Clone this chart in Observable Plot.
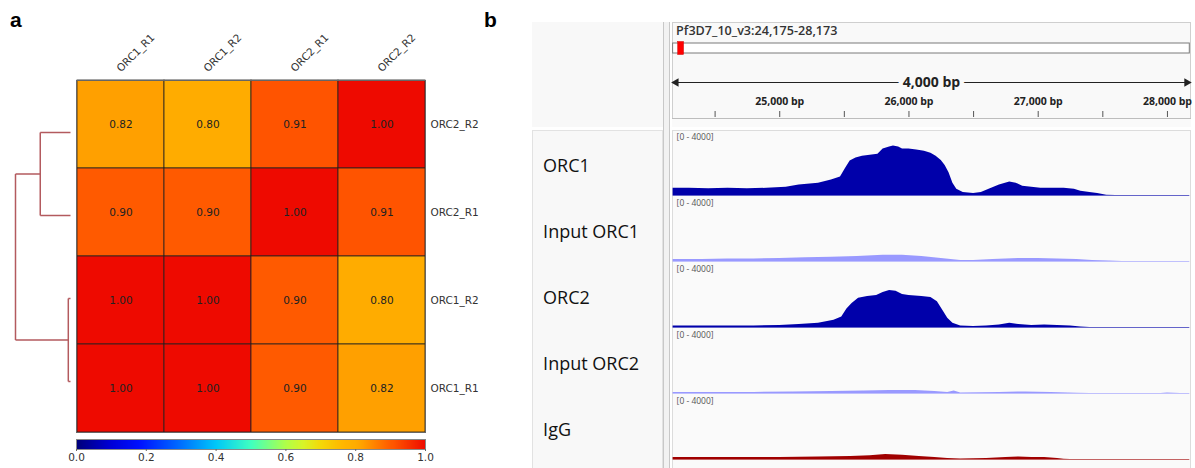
<!DOCTYPE html>
<html><head><meta charset="utf-8">
<script src="https://cdn.jsdelivr.net/npm/d3@7"></script>
<script src="https://cdn.jsdelivr.net/npm/@observablehq/plot@0.6"></script>
<style>
body{margin:0;background:#fff;}
#fig{position:relative;width:1195px;height:468px;overflow:hidden;font-family:"Open Sans",sans-serif;background:#fff;}
.abs{position:absolute;}
.lbl{position:absolute;font-family:"Liberation Sans",Arial,sans-serif;font-weight:bold;font-size:21px;color:#000;line-height:1;}
</style></head><body><div id="fig"></div>
<script>
// ---------- Panel a data ----------
const columns = ["ORC1_R1","ORC1_R2","ORC2_R1","ORC2_R2"];
const rows = ["ORC2_R2","ORC2_R1","ORC1_R2","ORC1_R1"];
const corr = [
  [0.82, 0.80, 0.91, 1.00],
  [0.90, 0.90, 1.00, 0.91],
  [1.00, 1.00, 0.90, 0.80],
  [1.00, 1.00, 0.90, 0.82]
];
const colorStops = [0, 0.1, 0.18, 0.3, 0.4, 0.5, 0.6, 0.65, 0.7, 0.76, 0.8, 0.82, 0.9, 0.91, 1.0];
const colorStopColors = ["#00007A","#0000D8","#0010FF","#0070FF","#00C8F8","#40FFC0","#B0FF48","#D8F428","#F4D808","#FFB800","#FFAC00","#FFA000","#FF5A00","#FF5400","#EE0A00"];
const colorbarTicks = [0, 0.2, 0.4, 0.6, 0.8, 1.0];
const dendroMerges = [
  {id: "A", left: "ORC2_R2", right: "ORC2_R1", height: 0.55},
  {id: "B", left: "ORC1_R2", right: "ORC1_R1", height: 0.04},
  {id: "root", left: "A", right: "B", height: 1.0}
];

// ---------- Panel b data ----------
const locusLabel = "Pf3D7_10_v3:24,175-28,173";
const regionStart = 24175, regionEnd = 28173;
const chromosomeLength = 1687656;
const spanBp = 4000;
const majorTicks = [25000, 26000, 27000, 28000];
const minorTicks = [24500, 25500, 26500, 27500];
const trackNames = ["ORC1", "Input ORC1", "ORC2", "Input ORC2", "IgG"];
const trackColors = ["#0000AA", "#9999FF", "#0000AA", "#9999FF", "#A00000"];
const dataRangeLabel = "[0 - 4000]";
const dataRangeMax = 4000;

const orc1Signal = [[24175,450],[24300,450],[24450,420],[24600,450],[24750,420],[24900,450],[25050,520],[25150,650],[25300,770],[25400,970],[25470,1160],[25510,1700],[25545,2150],[25590,2350],[25640,2450],[25700,2520],[25760,2580],[25800,2900],[25850,3030],[25880,3100],[25920,3030],[25950,2900],[26000,2900],[26060,2840],[26120,2770],[26170,2640],[26210,2450],[26250,2190],[26280,1870],[26310,1420],[26340,770],[26370,390],[26420,190],[26500,130],[26560,190],[26620,390],[26700,650],[26780,840],[26830,770],[26880,580],[26950,520],[27020,450],[27100,450],[27200,450],[27280,390],[27330,260],[27400,190],[27460,130],[27530,20],[27600,0],[28173,0]];
const inputOrc1Signal = [[24175,130],[24400,130],[24600,160],[24800,160],[25000,190],[25200,230],[25400,260],[25600,320],[25800,390],[25950,390],[26100,320],[26250,190],[26400,65],[26500,65],[26650,130],[26850,190],[27000,190],[27150,160],[27300,130],[27420,65],[27550,30],[27650,0],[28173,0]];
const orc2Signal = [[24175,100],[24400,100],[24600,100],[24800,100],[25000,130],[25150,190],[25300,260],[25420,450],[25480,650],[25520,1150],[25560,1500],[25610,1830],[25680,1940],[25750,2000],[25800,2190],[25850,2320],[25900,2260],[25950,2060],[26000,2000],[26100,1940],[26170,1870],[26220,1610],[26270,970],[26300,580],[26340,260],[26400,100],[26500,65],[26600,100],[26700,160],[26780,260],[26850,190],[26950,130],[27050,160],[27150,130],[27250,100],[27330,30],[27400,0],[28173,0]];
const inputOrc2Signal = [[24175,65],[24500,65],[24800,65],[25100,100],[25400,130],[25650,160],[25850,190],[26050,190],[26200,130],[26300,65],[26350,160],[26400,30],[26700,65],[26900,100],[27100,65],[27300,20],[27400,0],[27950,0],[28000,30],[28100,0],[28173,0]];
const iggSignal = [[24175,130],[24400,130],[24700,130],[25000,130],[25300,160],[25550,190],[25700,230],[25820,320],[25950,260],[26080,190],[26200,130],[26300,65],[26400,30],[26600,65],[26750,130],[26850,160],[26950,130],[27050,130],[27150,65],[27200,20],[27250,0],[28173,0]];
const trackSignals = [orc1Signal, inputOrc1Signal, orc2Signal, inputOrc2Signal, iggSignal];

// ---------- helpers ----------
const fig = document.getElementById("fig");
function place(el, left, top) {
  const d = document.createElement("div");
  d.className = "abs"; d.style.left = left + "px"; d.style.top = top + "px";
  d.appendChild(el); fig.appendChild(d); return d;
}
function box(left, top, w, h, css) {
  const d = document.createElement("div");
  d.className = "abs";
  Object.assign(d.style, {left: left + "px", top: top + "px", width: w + "px", height: h + "px", boxSizing: "border-box"}, css);
  fig.appendChild(d); return d;
}
function label(t, left, top) {
  const d = document.createElement("div"); d.className = "lbl"; d.textContent = t;
  d.style.left = left + "px"; d.style.top = top + "px"; fig.appendChild(d);
}
const baseStyle = {background: "transparent", maxWidth: "none", overflow: "visible"};

// ---------- Panel a ----------
label("a", 10, 9);
const cells = rows.flatMap((r, i) => columns.map((c, j) => ({row: r, col: c, value: corr[i][j]})));
const jet = {type: "linear", domain: colorStops, range: colorStopColors};

const heat = Plot.plot({
  width: 480, height: 440, marginLeft: 76, marginRight: 55, marginTop: 80, marginBottom: 8,
  x: {domain: columns, padding: 0, axis: null},
  y: {domain: rows, padding: 0, axis: null},
  color: jet,
  style: {...baseStyle, fontFamily: "DejaVu Sans", fontSize: "10.5px"},
  marks: [
    Plot.cell(cells, {x: "col", y: "row", fill: "value", stroke: "#222", strokeWidth: 0.8}),
    Plot.text(cells, {x: "col", y: "row", text: d => d.value.toFixed(2), fill: "#222", fontSize: 10.5}),
    Plot.text(columns, {x: d => d, frameAnchor: "top", dy: -8, rotate: -45, textAnchor: "start", lineAnchor: "bottom", fill: "#333", fontSize: 10.5}),
    Plot.text(rows, {y: d => d, frameAnchor: "right", dx: 5, textAnchor: "start", fill: "#333", fontSize: 10.5}),
    Plot.frame({stroke: "#666", strokeWidth: 1})
  ]
});
place(heat, 0, 0);

// dendrogram
const leafIndex = new Map(rows.map((r, i) => [r, i]));
const nodes = new Map(rows.map(r => [r, {h: 0, y: leafIndex.get(r)}]));
const segments = [];
for (const m of dendroMerges) {
  const a = nodes.get(m.left), b = nodes.get(m.right);
  segments.push({x1: a.h, y1: a.y, x2: m.height, y2: a.y});
  segments.push({x1: b.h, y1: b.y, x2: m.height, y2: b.y});
  segments.push({x1: m.height, y1: a.y, x2: m.height, y2: b.y});
  nodes.set(m.id, {h: m.height, y: (a.y + b.y) / 2});
}
const dendro = Plot.plot({
  width: 76, height: 440, margin: 0,
  x: {domain: [1, 0], range: [15, 70], axis: null},
  y: {domain: [0, rows.length - 1], range: [132, 381], axis: null},
  style: baseStyle,
  marks: [
    Plot.link(segments, {x1: "x1", y1: "y1", x2: "x2", y2: "y2", stroke: "#B35A5E", strokeWidth: 1.5})
  ]
});
place(dendro, 0, 0);

// colorbar
const cbar = Plot.plot({
  width: 480, height: 36, marginLeft: 76, marginRight: 55, marginTop: 7, marginBottom: 19,
  x: {domain: [0, 1]},
  y: {domain: [0, 1], axis: null},
  color: jet,
  style: {...baseStyle, fontFamily: "DejaVu Sans", fontSize: "10.5px"},
  marks: [
    Plot.raster({fill: (x, y) => x, x1: 0, x2: 1, y1: 0, y2: 1, width: 349, height: 1, imageRendering: "auto"}),
    Plot.frame({stroke: "#888"}),
    Plot.axisX({ticks: colorbarTicks, tickFormat: ".1f", tickSize: 2, tickPadding: 2, stroke: "#666", fill: "#333", fontSize: 10.5})
  ]
});
place(cbar, 0, 432);

// ---------- Panel b ----------
label("b", 484, 9);
// panel backgrounds (layout)
box(532, 22, 131, 105, {background: "#F8F8F8"});
box(663, 22, 7, 446, {borderLeft: "1px solid #C8C8C8", borderRight: "1px solid #C8C8C8", background: "#F2F2F2"});
box(672, 22, 519, 105, {background: "#F9F9F9", border: "1px solid #CFCFCF"});
box(672, 118, 519, 9, {borderTop: "1px solid #BDBDBD", background: "#FAFAFA"});
box(532, 130, 131, 340, {background: "#F8F8F8", border: "1px solid #E2E2E2"});
box(672, 130, 519, 340, {background: "#FAFAFA", border: "1px solid #DCDCDC"});

const xMargins = {marginLeft: 672.6, marginRight: 5.7};

// ideogram
const ideo = Plot.plot({
  width: 1195, height: 14, ...xMargins, marginTop: 2, marginBottom: 2,
  x: {domain: [0, chromosomeLength], axis: null},
  style: baseStyle,
  marks: [
    Plot.rect([chromosomeLength], {x1: () => 0, x2: d => d, fill: "white", stroke: "#7A7A7A"}),
    Plot.rect([{start: regionStart, end: regionEnd}], {x1: "start", x2: "end", fill: "#FF0000", stroke: "#D00000", strokeWidth: 0.5, insetLeft: -2.3, insetRight: -2.3, insetTop: -1.5, insetBottom: -1.5})
  ]
});
place(ideo, 0, 41);

// ruler header
const header = Plot.plot({
  width: 1195, height: 97, ...xMargins, marginTop: 0, marginBottom: 0,
  x: {domain: [regionStart, regionEnd], axis: null},
  style: {...baseStyle, fontFamily: "Open Sans"},
  marks: [
    Plot.text([locusLabel], {x: () => regionStart, text: d => d, frameAnchor: "top", dy: 3.5, dx: 3, textAnchor: "start", fontSize: 12.6, fontWeight: 600, fill: "#333"}),
    Plot.ruleY([spanBp], {x1: () => regionStart, x2: () => regionEnd, y: null, dy: 11.5, stroke: "#222", strokeWidth: 1.1}),
    Plot.dot([regionStart], {x: d => d, symbol: "triangle", rotate: -90, r: 3.2, fill: "#222", stroke: null, dy: 11.5, dx: 3}),
    Plot.dot([regionEnd], {x: d => d, symbol: "triangle", rotate: 90, r: 3.2, fill: "#222", stroke: null, dy: 11.5, dx: -3}),
    Plot.text([spanBp], {x: () => (regionStart + regionEnd) / 2, text: d => d3.format(",")(d) + " bp", frameAnchor: "middle", dy: 11.5, fontSize: 14, fontWeight: 700, fill: "#222", stroke: "#F9F9F9", strokeWidth: 9}),
    Plot.text(majorTicks, {x: d => d, text: d => d3.format(",")(d) + " bp", frameAnchor: "top", dy: 75, fontSize: 10.5, fontWeight: 700, fill: "#222"}),
    Plot.tickX([...minorTicks, ...majorTicks], {x: d => d, insetTop: 89, insetBottom: 2, stroke: "#555", strokeWidth: 1})
  ]
});
place(header, 0, 22);

// tracks
const trackInfo = trackNames.map((name, i) => ({name, color: trackColors[i]}));
const signal = trackNames.flatMap((t, i) => trackSignals[i].map(([bp, value]) => ({track: t, bp, value})));
const tracks = Plot.plot({
  width: 1195, height: 330, ...xMargins, marginTop: 0, marginBottom: 0,
  x: {domain: [regionStart, regionEnd], axis: null},
  y: {domain: [0, dataRangeMax], axis: null, insetBottom: 2},
  fy: {domain: trackNames, axis: null, padding: 0},
  color: {domain: trackNames, range: trackColors},
  style: {...baseStyle, fontFamily: "Open Sans"},
  marks: [
    Plot.ruleY(trackInfo, {fy: "name", y: () => 0, stroke: "name", strokeOpacity: 0.6, strokeWidth: 1.2}),
    Plot.areaY(signal, {x: "bp", y: "value", fy: "track", fill: "track", curve: "linear"}),
    Plot.text(trackInfo, {fy: "name", text: () => dataRangeLabel, frameAnchor: "top-left", dx: 3.5, dy: 2, fontSize: 8.5, fill: "#555"}),
    Plot.text(trackInfo, {fy: "name", text: "name", frameAnchor: "left", dx: -130, dy: 2, textAnchor: "start", fontSize: 18, fill: "#111"})
  ]
});
place(tracks, 0, 131);
</script></body></html>
